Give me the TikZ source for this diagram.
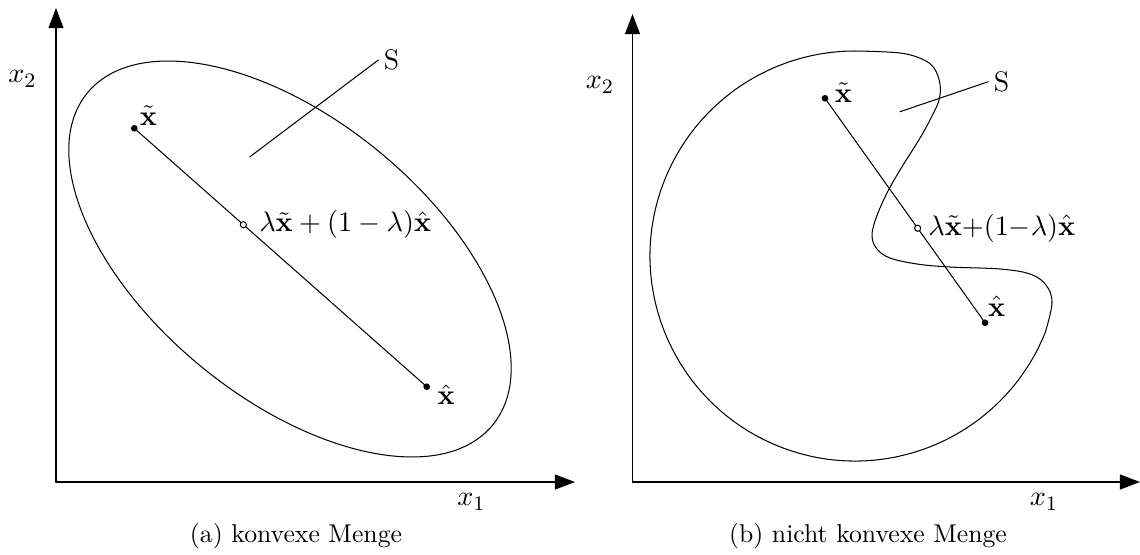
\documentclass[tikz,border=0pt]{standalone}
\usepackage{amsmath,amssymb}
\usepackage{tikz}
\usetikzlibrary{arrows.meta,calc,positioning}
\newcommand{\setdotsize}{1.3pt}
\tikzset{
  set line/.style={line width=.4pt},
  axis line/.style={line width=.5pt,-{Triangle[length=7.8pt,width=5.8pt]}},
  pt label/.style={font=\fontsize{11}{13}\selectfont,inner sep=1pt},
  cap label/.style={inner sep=0pt,anchor=base}
}
\newcommand{\SetDot}[1]{\fill (#1) circle (\setdotsize);}
\newcommand{\MixDot}[1]{\draw[set line,fill=white] (#1) circle (1.2pt);}

\begin{document}
\begin{tikzpicture}[x=0.01367cm,y=-0.01367cm,line cap=round,line join=round]
  \useasboundingbox (0,0) rectangle (1140,554);

  % (a) konvexe Menge
  \coordinate (oA) at (56,482);
  \coordinate (yA) at (56,8);
  \coordinate (xA) at (575,482);
  \draw[axis line] (oA)--(yA);
  \draw[axis line] (oA)--(xA);
  \node[pt label] (x2A) at (22.5,79) {$x_2$};
  \node[pt label] (x1A) at (471.5,502) {$x_1$};

  \coordinate (cA) at (290,259);
  \draw[set line,rotate around={-39.3:(cA)}] (cA) ellipse [x radius=262,y radius=139.5];

  \coordinate (xtA) at (134.3,128.3);
  \coordinate (xhA) at (426.7,386.7);
  \coordinate (mA) at ($(xtA)!0.373!(xhA)$);
  \draw[set line] (xtA)--(xhA);
  \SetDot{xtA} \SetDot{xhA} \MixDot{mA}
  \node[pt label,above right=0pt and 1pt of xtA] (ltA) {$\tilde{\mathbf{x}}$};
  \node[pt label,below right=-2pt and 3pt of xhA] (lhA) {$\hat{\mathbf{x}}$};
  \node[pt label,right=5pt of mA] (lmA) {$\lambda\tilde{\mathbf{x}}+(1-\lambda)\hat{\mathbf{x}}$};

  \coordinate (pA) at (250,156.7);
  \node[pt label,anchor=west,inner sep=2pt] (SA) at (378.3,60) {S};
  \draw[set line] (pA)--(SA.west);

  \node[cap label] (capA) at (296,542) {(a) konvexe Menge};

  % (b) nicht konvexe Menge
  \coordinate (oB) at (632.5,482);
  \coordinate (yB) at (632.5,14);
  \coordinate (xB) at (1140,482);
  \draw[axis line] (oB)--(yB);
  \draw[axis line] (oB)--(xB);
  \node[pt label] (x2B) at (600,85) {$x_2$};
  \node[pt label] (x1B) at (1044,502) {$x_1$};

  \coordinate (cB) at (855,256);
  \draw[set line] (cB) ++(22:205) arc[start angle=22,end angle=272,radius=205]
    -- plot[smooth,tension=0.6] coordinates {
    (862.2,51.1) (900,53) (922,59) (934,68) (940,84) (939,100) (932,116)
    (920,138) (900,170) (887,193) (876,218) (872,236) (877,249)
    (890,258) (917,264) (950,267) (1000,269) (1030,274) (1046,285)
    (1052,303) (1045.1,332.8)} -- cycle;

  \coordinate (xtB) at (825,98.3);
  \coordinate (xhB) at (985,322.7);
  \coordinate (mB) at ($(xtB)!0.579!(xhB)$);
  \draw[set line] (xtB)--(xhB);
  \SetDot{xtB} \SetDot{xhB} \MixDot{mB}
  \node[pt label,above right=-2.7pt and 2.6pt of xtB] (ltB) {$\tilde{\mathbf{x}}$};
  \node[pt label,above right=1.3pt and 0pt of xhB] (lhB) {$\hat{\mathbf{x}}$};
  \node[pt label,right=3pt of mB] (lmB) {$\lambda\tilde{\mathbf{x}}{+}(1{-}\lambda)\hat{\mathbf{x}}$};

  \coordinate (pB) at (900,111.7);
  \node[pt label,anchor=west,inner sep=2pt] (SB) at (988.3,81.7) {S};
  \draw[set line] (pB)--(SB.west);

  \node[cap label] (capB) at (868,542) {(b) nicht konvexe Menge};
\end{tikzpicture}
\end{document}
